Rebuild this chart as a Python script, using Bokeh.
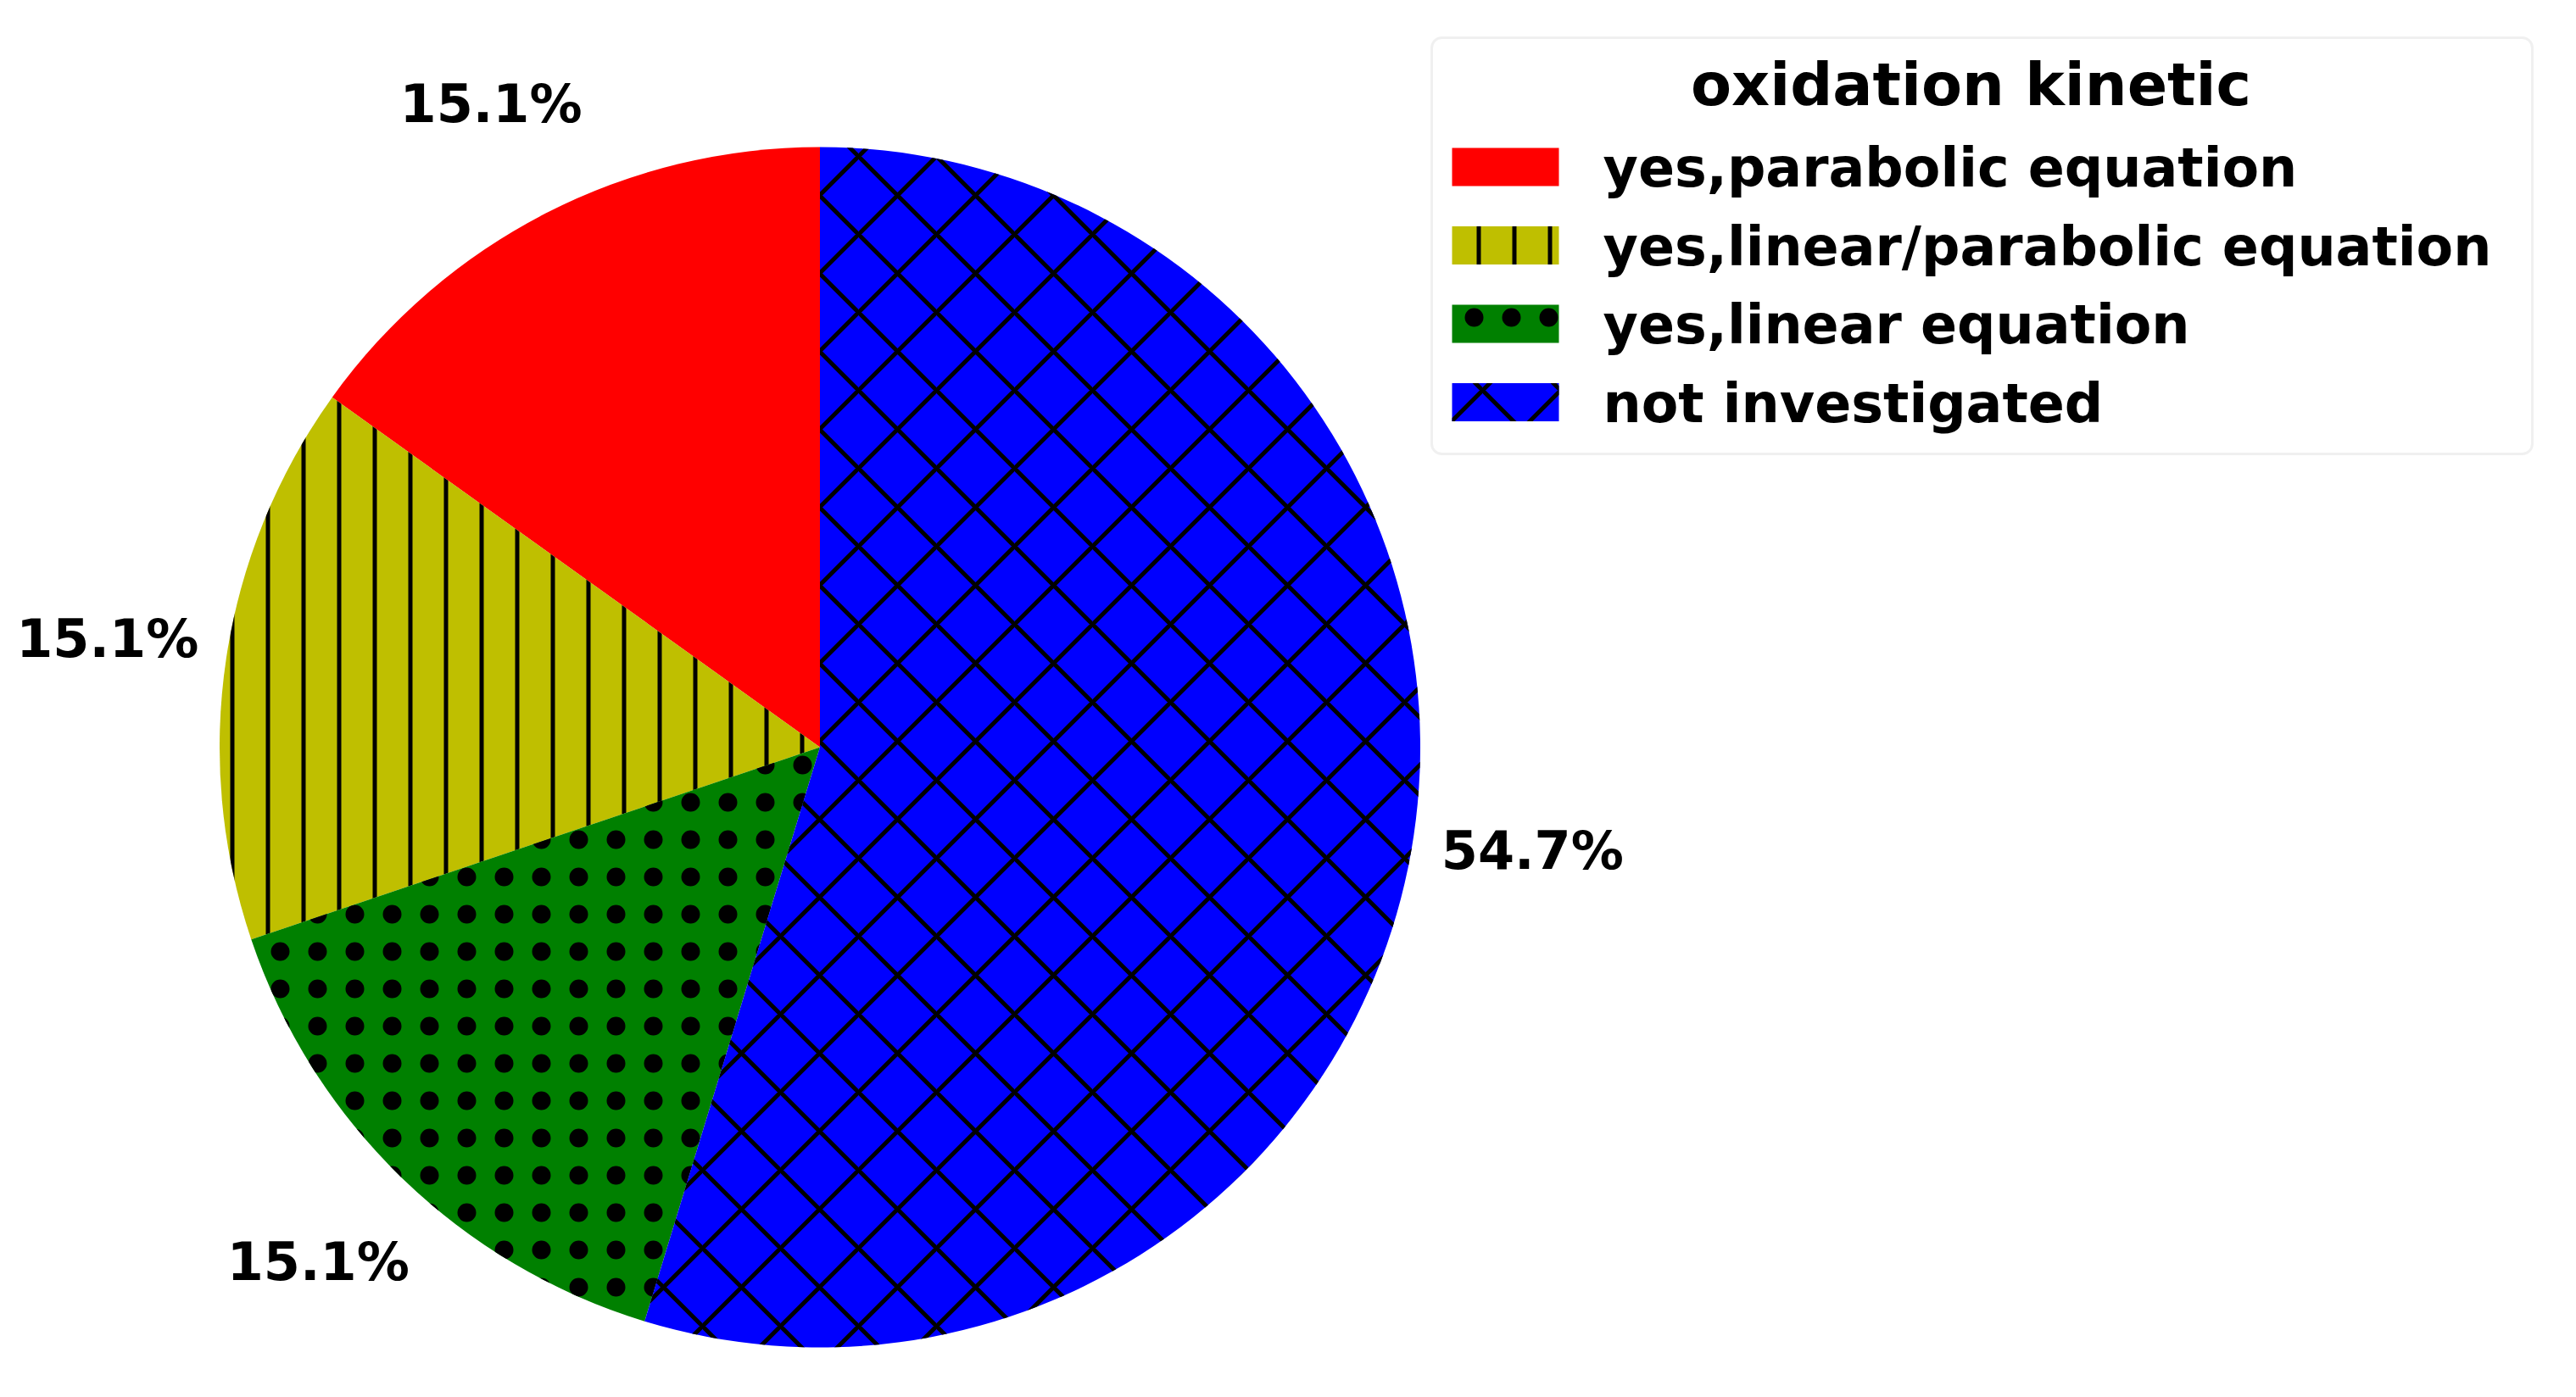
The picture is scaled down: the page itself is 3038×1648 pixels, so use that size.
import math
from bokeh.plotting import figure
from bokeh.models import Range1d, BoxAnnotation
from bokeh.core.properties import value
from bokeh.embed import file_html
from bokeh.resources import INLINE

# ---- data ----
categories = ["yes,parabolic equation", "yes,linear/parabolic equation",
              "yes,linear equation", "not investigated"]
counts = [8, 8, 8, 29]
colors = ["#ff0000", "#bfbf00", "#008000", "#0000ff"]
hatches = [" ", "|", ".", "x"]
hatch_scales = [20, 42, 44, 92]
hatch_weights = [1, 5, 1, 5]
legend_title = "oxidation kinetic"

# ---- layout (page pixel coordinates; data y = -page_y) ----
W, H = 3022, 1632
CX, CY, R = 966.5, -881.0, 708.0
FONT = "DejaVu Sans"

p = figure(width=W, height=H, output_backend="svg", toolbar_location=None,
           x_range=Range1d(0, W), y_range=Range1d(-H, 0),
           min_border=0)
p.axis.visible = False
p.grid.visible = False
p.outline_line_color = None
p.background_fill_color = "white"
p.border_fill_color = "white"

total = float(sum(counts))
start_deg = 90.0
starts, ends, mids = [], [], []
a = start_deg
for c in counts:
    span = 360.0 * c / total
    starts.append(math.radians(a))
    ends.append(math.radians(a + span))
    mids.append(math.radians(a + span / 2))
    a += span

for i in range(len(counts)):
    p.wedge(x=CX, y=CY, radius=R, start_angle=starts[i], end_angle=ends[i],
            fill_color=colors[i], line_color=None,
            hatch_pattern=hatches[i], hatch_color="black",
            hatch_scale=hatch_scales[i], hatch_weight=hatch_weights[i])

# percentage labels at 1.2 R
lx = [CX + 1.2 * R * math.cos(m) for m in mids]
ly = [CY + 1.2 * R * math.sin(m) + 3 for m in mids]
ltxt = ["%.1f%%" % (100.0 * c / total) for c in counts]
p.text(x=lx, y=ly, text=ltxt, text_font=value(FONT), text_font_style="bold",
       text_font_size="62px", text_align="center", text_baseline="middle",
       text_color="black")

# ---- legend ----
box = BoxAnnotation(left=1688, right=2986, top=-44, bottom=-535,
                    fill_color="white", fill_alpha=1.0,
                    line_color="#cccccc", line_width=3, border_radius=12,
                    level="underlay")
p.add_layout(box)

row0, step = 196.5, 92.5
for i, cat in enumerate(categories):
    cy = row0 + i * step
    p.quad(left=1712, right=1838, top=-(cy - 22.5), bottom=-(cy + 22.5),
           fill_color=colors[i], line_color=None,
           hatch_pattern=hatches[i], hatch_color="black",
           hatch_scale=hatch_scales[i], hatch_weight=hatch_weights[i])
p.text(x=[1890] * len(categories),
       y=[-(row0 + 1 + i * step) for i in range(len(categories))],
       text=categories, text_font=value(FONT), text_font_style="bold",
       text_font_size="63.5px", text_align="left", text_baseline="middle",
       text_color="black")
p.text(x=[2324], y=[-99], text=[legend_title], text_font=value(FONT),
       text_font_style="bold", text_font_size="70px", text_align="center",
       text_baseline="middle", text_color="black")

open("out.html", "w").write(file_html(p, INLINE))
